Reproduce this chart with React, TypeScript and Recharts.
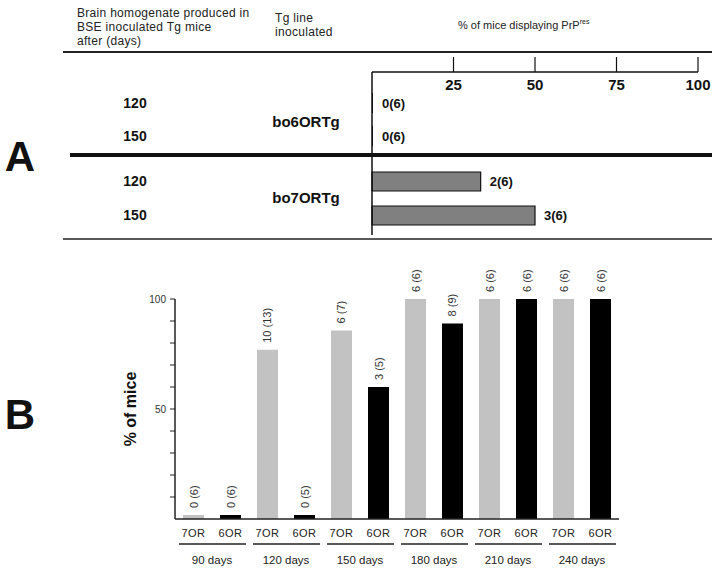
import { Bar, BarChart, LabelList, XAxis, YAxis } from 'recharts';

const FONT = '"Liberation Sans", Arial, sans-serif';

// panel A
const harvestDays = ['120', '150'];
const tgLines = ['bo6ORTg', 'bo7ORTg'];
const bo6Positive = [0, 0];
const bo6Total = [6, 6];
const bo7Positive = [2, 3];
const bo7Total = [6, 6];
const pctTicks = [25, 50, 75, 100];

// panel B
const days = ['90 days', '120 days', '150 days', '180 days', '210 days', '240 days'];
const lineNames = ['7OR', '6OR'];
const positive7OR = [0, 10, 6, 6, 6, 6];
const total7OR = [6, 13, 7, 6, 6, 6];
const positive6OR = [0, 0, 3, 8, 6, 6];
const total6OR = [6, 5, 5, 9, 6, 6];
const miceTicks = [10, 20, 30, 40, 50, 60, 70, 80, 90, 100];

const rowsA = (pos: number[], tot: number[]) =>
  harvestDays.map((d, i) => ({
    day: d,
    pct: (pos[i] / tot[i]) * 100,
    label: `${pos[i]}(${tot[i]})`,
  }));

const dataA6 = rowsA(bo6Positive, bo6Total);
const dataA7 = rowsA(bo7Positive, bo7Total);

const dataB = days.map((d, i) => ({
  day: d,
  or7: (positive7OR[i] / total7OR[i]) * 100,
  or6: (positive6OR[i] / total6OR[i]) * 100,
  label7: `${positive7OR[i]} (${total7OR[i]})`,
  label6: `${positive6OR[i]} (${total6OR[i]})`,
}));

const BAND_B = 74;

function RowTick({ y, payload }: any) {
  return (
    <text x={135} y={y} textAnchor="middle" dominantBaseline="central"
      fontFamily={FONT} fontWeight="bold" fontSize={14} fill="#111">
      {payload.value}
    </text>
  );
}

function PctTick({ x, y, payload }: any) {
  return (
    <text x={x} y={y + 27} textAnchor="middle" dominantBaseline="central"
      fontFamily={FONT} fontWeight="bold" fontSize={15} fill="#111">
      {payload.value}
    </text>
  );
}

function RightLabel(props: any) {
  const vb = props.viewBox ?? props;
  return (
    <text x={vb.x + vb.width + 9} y={vb.y + vb.height / 2} dominantBaseline="central"
      fontFamily={FONT} fontWeight="bold" fontSize={13} fill="#111">
      {props.value}
    </text>
  );
}

function TopLabel(props: any) {
  const vb = props.viewBox ?? props;
  const cx = vb.x + vb.width / 2;
  const ty = vb.y - 7;
  return (
    <text x={cx} y={ty} transform={`rotate(-90 ${cx} ${ty})`} textAnchor="start"
      dominantBaseline="central" fontFamily={FONT} fontSize={11} fill="#333">
      {props.value}
    </text>
  );
}

function DayTick({ x, y, payload }: any) {
  const q = BAND_B / 4;
  return (
    <g fontFamily={FONT} fill="#222">
      <text x={x - q} y={y + 12} textAnchor="middle" dominantBaseline="central" fontSize={11} letterSpacing={0.5}>
        {lineNames[0]}
      </text>
      <text x={x + q} y={y + 12} textAnchor="middle" dominantBaseline="central" fontSize={11} letterSpacing={0.5}>
        {lineNames[1]}
      </text>
      <line x1={x - BAND_B / 2 + 4} x2={x + BAND_B / 2 - 3} y1={y + 23} y2={y + 23} stroke="#222" strokeWidth={1.5} />
      <text x={x} y={y + 39} textAnchor="middle" dominantBaseline="central" fontSize={11.5}>
        {payload.value}
      </text>
    </g>
  );
}

export default function App() {
  return (
    <div style={{ position: 'absolute', left: 0, top: 0, width: 720, height: 569, background: '#fff', fontFamily: FONT }}>
      <div style={{ position: 'absolute', left: 0, top: 0 }}>
        <BarChart width={720} height={155} data={dataA6} layout="vertical" barSize={20}
          margin={{ top: 0, right: 22, left: 0, bottom: 0 }}>
          <XAxis type="number" orientation="top" domain={[0, 100]} ticks={pctTicks} height={72}
            tickSize={15} tickMargin={0} tick={<PctTick />} interval={0}
            stroke="#111" axisLine={{ stroke: '#111', strokeWidth: 1.5 }} tickLine={{ stroke: '#111', strokeWidth: 1.2 }} />
          <YAxis type="category" dataKey="day" width={372} tick={<RowTick />} tickLine={false}
            padding={{ top: 14, bottom: 3 }} axisLine={{ stroke: '#111', strokeWidth: 1.5 }} />
          <Bar dataKey="pct" fill="#111" minPointSize={1} isAnimationActive={false}>
            <LabelList dataKey="label" content={<RightLabel />} />
          </Bar>
        </BarChart>
      </div>
      <div style={{ position: 'absolute', left: 0, top: 155 }}>
        <BarChart width={720} height={80} data={dataA7} layout="vertical" barSize={19}
          margin={{ top: 0, right: 22, left: 0, bottom: 0 }}>
          <XAxis type="number" domain={[0, 100]} hide />
          <YAxis type="category" dataKey="day" width={372} tick={<RowTick />} tickLine={false}
            padding={{ top: 9, bottom: 3 }} axisLine={{ stroke: '#111', strokeWidth: 1.5 }} />
          <Bar dataKey="pct" fill="#808080" stroke="#111" strokeWidth={1.2} isAnimationActive={false}>
            <LabelList dataKey="label" content={<RightLabel />} />
          </Bar>
        </BarChart>
      </div>
      <div style={{ position: 'absolute', left: 0, top: 270 }}>
        <BarChart width={720} height={299} data={dataB} barSize={21} barGap={16}
          margin={{ top: 29, right: 101, left: 0, bottom: 0 }}>
          <XAxis dataKey="day" height={50} tickLine={false} tickSize={0} tickMargin={2}
            tick={<DayTick />} interval={0} axisLine={{ stroke: '#222', strokeWidth: 1.5 }} />
          <YAxis type="number" domain={[0, 100]} ticks={miceTicks} interval={0} width={175}
            tickSize={5} tickMargin={4} tickFormatter={(v: number) => (v === 50 || v === 100 ? String(v) : '')}
            tick={{ fontSize: 10, fill: '#333', fontFamily: FONT }}
            axisLine={{ stroke: '#222', strokeWidth: 1.5 }} tickLine={{ stroke: '#222' }}
            label={{ value: '% of mice', angle: -90, position: 'center', dx: 43, fontSize: 16, fontWeight: 'bold', fill: '#111', fontFamily: FONT }} />
          <Bar dataKey="or7" fill="#c2c2c2" minPointSize={4} isAnimationActive={false}>
            <LabelList dataKey="label7" content={<TopLabel />} />
          </Bar>
          <Bar dataKey="or6" fill="#000" minPointSize={4} isAnimationActive={false}>
            <LabelList dataKey="label6" content={<TopLabel />} />
          </Bar>
        </BarChart>
      </div>
      <svg width={720} height={569} style={{ position: 'absolute', left: 0, top: 0, pointerEvents: 'none' }}
        fontFamily={FONT} fill="#222">
        <text x={77} y={13} fontSize={12} dominantBaseline="central" letterSpacing={0.3}>Brain homogenate produced in</text>
        <text x={77} y={27} fontSize={12} dominantBaseline="central" letterSpacing={0.3}>BSE  inoculated Tg mice</text>
        <text x={77} y={41} fontSize={12} dominantBaseline="central" letterSpacing={0.3}>after (days)</text>
        <text x={275} y={18} fontSize={12} dominantBaseline="central" letterSpacing={0.3}>Tg line</text>
        <text x={275} y={32} fontSize={12} dominantBaseline="central" letterSpacing={0.3}>inoculated</text>
        <text x={458} y={25} fontSize={11} dominantBaseline="central">
          % of mice displaying PrP<tspan fontSize={7} dy={-4}>res</tspan>
        </text>
        <text x={306} y={121} fontSize={15} fontWeight="bold" textAnchor="middle" dominantBaseline="central" fill="#111">{tgLines[0]}</text>
        <text x={306} y={197} fontSize={15} fontWeight="bold" textAnchor="middle" dominantBaseline="central" fill="#111">{tgLines[1]}</text>
        <line x1={63} x2={712} y1={52} y2={52} stroke="#222" strokeWidth={2} />
        <line x1={70} x2={712} y1={155} y2={155} stroke="#111" strokeWidth={4} />
        <line x1={63} x2={712} y1={239} y2={239} stroke="#222" strokeWidth={1.5} />
        <text x={20} y={156} fontSize={42} fontWeight="bold" textAnchor="middle" dominantBaseline="central" fill="#111">A</text>
        <text x={20} y={414} fontSize={42} fontWeight="bold" textAnchor="middle" dominantBaseline="central" fill="#111">B</text>
      </svg>
    </div>
  );
}
